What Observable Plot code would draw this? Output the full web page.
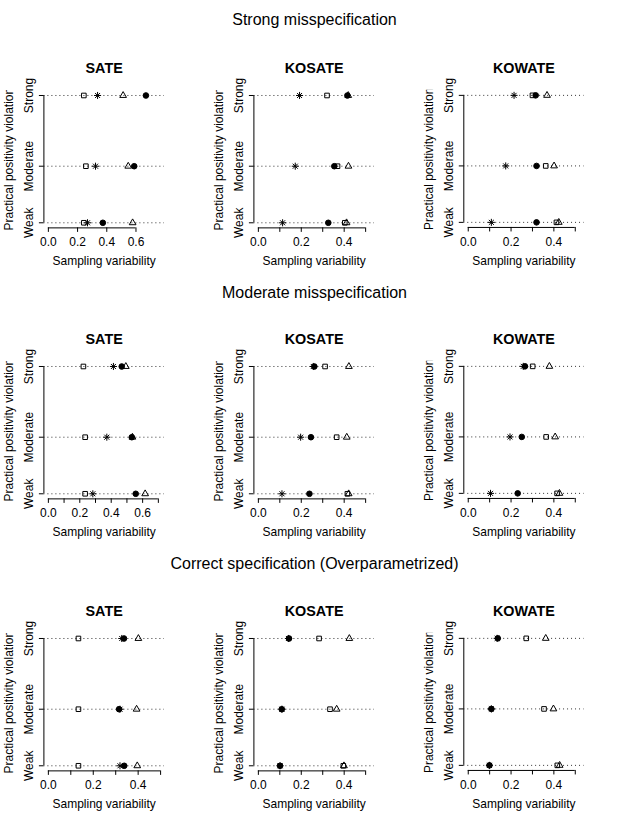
<!DOCTYPE html>
<html><head><meta charset="utf-8">
<script src="https://cdn.jsdelivr.net/npm/d3@7"></script>
<script src="https://cdn.jsdelivr.net/npm/@observablehq/plot@0.6"></script>
<style>
body{margin:0;background:#fff;}
#chart{position:relative;width:629px;height:814px;overflow:hidden;background:#fff;font-family:"Liberation Sans",Arial,Helvetica,sans-serif;color:#000;}
.rowtitle{position:absolute;left:0;width:629px;text-align:center;font-size:16px;line-height:16px;transform:translateY(-50%);}
.panel{position:absolute;}
</style></head><body><div id="chart"></div>
<script>
// ---------- data ----------
const scenarios = ["Strong misspecification", "Moderate misspecification", "Correct specification (Overparametrized)"];
const estimands = ["SATE", "KOSATE", "KOWATE"];
const levels = ["Weak", "Moderate", "Strong"];
const levelCode = [0, 4, 9];          // uneven vertical spacing of the three levels
const seriesNames = ["square", "asterisk", "triangle", "circle"];

// each array: SATE (Weak, Moderate, Strong), KOSATE (Weak, Moderate, Strong), KOWATE (Weak, Moderate, Strong)
const strongMis_square   = [0.243, 0.257, 0.243, 0.403, 0.369, 0.320, 0.412, 0.362, 0.300];
const strongMis_asterisk = [0.268, 0.323, 0.337, 0.113, 0.172, 0.192, 0.108, 0.175, 0.214];
const strongMis_triangle = [0.577, 0.547, 0.512, 0.411, 0.420, 0.419, 0.423, 0.401, 0.368];
const strongMis_circle   = [0.373, 0.588, 0.668, 0.326, 0.354, 0.415, 0.319, 0.319, 0.315];

const moderateMis_square   = [0.234, 0.234, 0.223, 0.415, 0.365, 0.311, 0.415, 0.364, 0.301];
const moderateMis_asterisk = [0.283, 0.372, 0.414, 0.110, 0.197, 0.256, 0.104, 0.195, 0.257];
const moderateMis_triangle = [0.616, 0.535, 0.493, 0.421, 0.412, 0.422, 0.426, 0.406, 0.379];
const moderateMis_circle   = [0.556, 0.531, 0.467, 0.238, 0.245, 0.261, 0.231, 0.250, 0.265];

const correct_square   = [0.134, 0.134, 0.134, 0.396, 0.334, 0.283, 0.416, 0.354, 0.271];
const correct_asterisk = [0.319, 0.319, 0.327, 0.101, 0.110, 0.140, 0.099, 0.108, 0.135];
const correct_triangle = [0.396, 0.393, 0.401, 0.399, 0.365, 0.424, 0.427, 0.398, 0.362];
const correct_circle   = [0.338, 0.315, 0.337, 0.101, 0.109, 0.143, 0.099, 0.108, 0.138];

const scenarioSeries = [
  [strongMis_square, strongMis_asterisk, strongMis_triangle, strongMis_circle],
  [moderateMis_square, moderateMis_asterisk, moderateMis_triangle, moderateMis_circle],
  [correct_square, correct_asterisk, correct_triangle, correct_circle]
];

// x-axis upper limits and tick values per panel (row = scenario, column = estimand)
const xLimit = [[0.764, 0.52, 0.52], [0.710, 0.52, 0.52], [0.497, 0.52, 0.52]];
const ticksA = [0, 0.2, 0.4, 0.6];
const ticksB = [0, 0.1, 0.2, 0.3, 0.4, 0.5, 0.6, 0.7];
const ticksC = [0, 0.1, 0.2, 0.3, 0.4, 0.5];
const xTicks = [[ticksA, ticksC, ticksC], [ticksB, ticksC, ticksC], [ticksC, ticksC, ticksC]];

// ---------- symbols (R pch 0, 8, 2, 19) ----------
const symSquare = {draw(ctx, size) {
  const R = Math.sqrt(size / Math.PI), h = 0.886 * R;
  ctx.moveTo(-h, -h); ctx.lineTo(h, -h); ctx.lineTo(h, h); ctx.lineTo(-h, h); ctx.closePath();
}};
const symTriangle = {draw(ctx, size) {
  const R = Math.sqrt(size / Math.PI), r = 1.555 * R, w = r * Math.sqrt(3) / 2;
  ctx.moveTo(0, -r); ctx.lineTo(w, r / 2); ctx.lineTo(-w, r / 2); ctx.closePath();
}};
const symAsterisk = {draw(ctx, size) {
  const R = Math.sqrt(size / Math.PI), p = Math.SQRT2 * R;
  ctx.moveTo(-p, 0); ctx.lineTo(p, 0); ctx.moveTo(0, -p); ctx.lineTo(0, p);
  ctx.moveTo(-R, -R); ctx.lineTo(R, R); ctx.moveTo(-R, R); ctx.lineTo(R, -R);
}};
const seriesStyle = {
  square:   {symbol: symSquare,   r: 2.6, fill: "none",  stroke: "black", strokeWidth: 1},
  asterisk: {symbol: symAsterisk, r: 2.5, fill: "none",  stroke: "black", strokeWidth: 1},
  triangle: {symbol: symTriangle, r: 2.5, fill: "none",  stroke: "black", strokeWidth: 1},
  circle:   {symbol: "circle",    r: 2.8, fill: "black", stroke: "black", strokeWidth: 1}
};

// ---------- layout ----------
const chart = document.getElementById("chart");
const FONT = '"Liberation Sans", Arial, Helvetica, sans-serif';
const colStep = 209.9, rowStep = 271.35;
const W = 209.7, mL = 43.4, mR = 45.8, mT = 49.9, mB = 45, frameH = 137.5;
const H = mT + frameH + mB;
const yDom = [-0.36, 9.36];
const titleY = [20, 292.5, 564];
const centered = {textAnchor: "middle", lineAnchor: "middle"};

scenarios.forEach((sc, r) => {
  const t = document.createElement("div");
  t.className = "rowtitle";
  t.style.top = titleY[r] + "px";
  t.textContent = sc;
  chart.appendChild(t);

  estimands.forEach((est, c) => {
    const b = xLimit[r][c];
    const xDom = [-0.04 * b, 1.04 * b];
    const ticks = xTicks[r][c];
    const pts = [];
    seriesNames.forEach((s, k) => {
      levels.forEach((lv, i) => {
        pts.push({series: s, level: lv, code: levelCode[i], value: scenarioSeries[r][k][c * 3 + i]});
      });
    });
    const svg = Plot.plot({
      width: W, height: H,
      marginLeft: mL, marginRight: mR, marginTop: mT, marginBottom: mB,
      style: {background: "transparent", overflow: "visible", fontSize: "12px", fontFamily: FONT, color: "black"},
      x: {domain: xDom},
      y: {domain: yDom},
      marks: [
        Plot.ruleY(levelCode, {stroke: "#333", strokeDasharray: "1,3", strokeWidth: 1}),
        Plot.ruleX([xDom[0]], {y1: levelCode[0], y2: levelCode[2], stroke: "black"}),
        Plot.axisY(levelCode, {tickSize: 4.5, tickFormat: () => "", label: null}),
        Plot.ruleY([yDom[0]], {x1: ticks[0], x2: ticks[ticks.length - 1], stroke: "black"}),
        Plot.axisX(ticks, {tickSize: 4.5, tickPadding: 5.5, label: null,
          tickFormat: d => (Math.round(d * 10) % 2 === 0 ? d.toFixed(1) : "")}),
        Plot.text(levelCode, {y: d => d, text: (d, i) => levels[i], frameAnchor: "left", rotate: -90, dx: -15, fontSize: 12, ...centered}),
        Plot.text(["Practical positivity violation"], {text: d => d, frameAnchor: "left", rotate: -90, dx: -35, fontSize: 12, ...centered}),
        Plot.text(["Sampling variability"], {text: d => d, frameAnchor: "bottom", dy: 33.4, fontSize: 12, ...centered}),
        Plot.text([est], {text: d => d, frameAnchor: "top", dy: -22, fontSize: 14.4, fontWeight: "bold", ...centered}),
        ...seriesNames.map(s => Plot.dot(pts.filter(d => d.series === s), {x: "value", y: "code", ...seriesStyle[s]}))
      ]
    });
    // clip the y-axis title at the top of the plotting region, as in the original
    const id = `clip-${r}-${c}`;
    const ns = "http://www.w3.org/2000/svg";
    const sel = d3.select(svg);
    sel.insert("defs", ":first-child").append("clipPath").attr("id", id)
      .append("rect").attr("x", -50).attr("y", mT).attr("width", W + 100).attr("height", H);
    sel.selectAll("text").filter(function() { return this.textContent === "Practical positivity violation"; })
      .each(function() {
        const g = this.parentNode;
        const wrap = document.createElementNS(ns, "g");
        g.parentNode.insertBefore(wrap, g);
        wrap.appendChild(g);
        wrap.setAttribute("clip-path", `url(#${id})`);
      });
    const div = document.createElement("div");
    div.className = "panel";
    div.style.left = (colStep * c) + "px";
    div.style.top = (40 + rowStep * r) + "px";
    div.appendChild(svg);
    chart.appendChild(div);
  });
});
</script>
</body></html>
